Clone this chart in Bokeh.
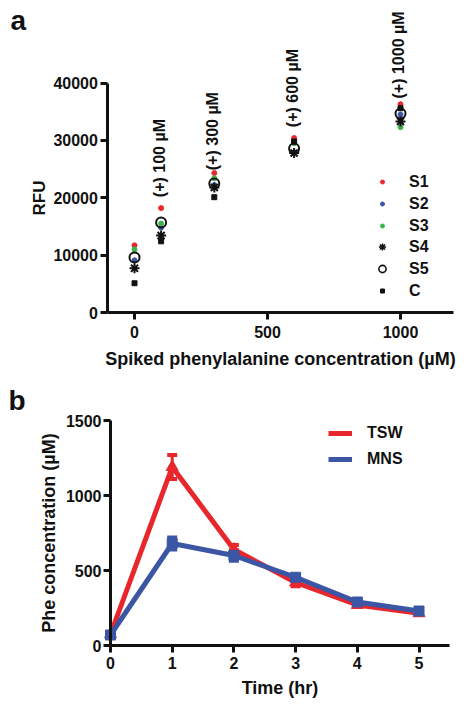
import math
from bokeh.plotting import figure
from bokeh.layouts import column
from bokeh.models import (ColumnDataSource, Legend, LegendItem, Label, FixedTicker,
                          Range1d, Whisker, TeeHead)
from bokeh.core.properties import value
from bokeh.embed import file_html
from bokeh.resources import INLINE

FONT = "Liberation Sans"

# ---------------- Panel a data ----------------
doses = [0, 100, 300, 600, 1000]
s1 = [11700, 18200, 24300, 30400, 36300]
s2 = [9100, 14800, 22200, 27900, 34500]
s3 = [11000, 15500, 23400, 29500, 32300]
s4 = [7700, 13400, 21800, 27800, 33300]
s5 = [9600, 15700, 22500, 28600, 34700]
ctrl = [5100, 12400, 20100, 29800, 35600]
spike_labels = ["(+) 100 µM", "(+) 300 µM", "(+) 600 µM", "(+) 1000 µM"]
spike_x = [100, 300, 600, 1000]
spike_label_y = [20100, 24800, 32300, 37300]
a_xticks = [0, 500, 1000]
a_yticks = [0, 10000, 20000, 30000, 40000]

# ---------------- Panel b data ----------------
time_hr = [0, 1, 2, 3, 4, 5]
tsw = [75, 1190, 640, 420, 270, 215]
tsw_err = [0, 80, 30, 25, 10, 10]
mns = [70, 680, 600, 455, 290, 230]
mns_err = [0, 40, 35, 15, 10, 10]
b_xticks = [0, 1, 2, 3, 4, 5]
b_yticks = [0, 500, 1000, 1500]

RED = "#E8272C"
BLUE = "#3A56A5"
GREEN = "#3AB54A"
BLACK = "#111111"

W = 460
HA = 378
HB = 321
NAN = float("nan")


def style_axes(p):
    for ax in (p.xaxis[0], p.yaxis[0]):
        ax.axis_line_width = 3
        ax.axis_line_color = BLACK
        ax.major_tick_line_width = 3
        ax.major_tick_line_color = BLACK
        ax.major_tick_out = 7
        ax.major_tick_in = 0
        ax.minor_tick_line_color = None
        ax.major_label_text_font = FONT
        ax.major_label_text_font_style = "bold"
        ax.major_label_text_font_size = "16px"
        ax.major_label_text_color = BLACK
        ax.axis_label_text_font = FONT
        ax.axis_label_text_font_style = "bold"
        ax.axis_label_text_font_size = "18px"
        ax.axis_label_text_color = BLACK
    p.xgrid.grid_line_color = None
    p.ygrid.grid_line_color = None
    p.outline_line_color = None


def make_fig(h, x0_px, xs, y0_px, ys):
    # x0_px: pixel column of data x=0; xs: px per unit; y0_px: pixel row of y=0; ys: px per unit
    xr = Range1d(-x0_px / xs, (W - x0_px) / xs)
    yr = Range1d(-(h - y0_px) / ys, y0_px / ys)
    p = figure(width=W, height=h, output_backend="svg", toolbar_location=None,
               x_range=xr, y_range=yr, min_border_left=0, min_border_right=0,
               min_border_top=0, min_border_bottom=0)
    return p


def legend(items, loc, gw, gh, standoff, spacing):
    return Legend(items=items, location=loc, padding=0, margin=0,
                  glyph_width=gw, glyph_height=gh, label_height=gh, spacing=spacing,
                  label_standoff=standoff, border_line_alpha=0, background_fill_alpha=0,
                  label_text_font=FONT, label_text_font_style="bold",
                  label_text_font_size="16px", label_text_color=BLACK)


# ================= Panel a =================
pa = make_fig(HA, 134, 133 / 500, 312, 229.5 / 40000)
style_axes(pa)
pa.xaxis[0].fixed_location = 0
pa.yaxis[0].fixed_location = -100
pa.xaxis[0].ticker = FixedTicker(ticks=a_xticks)
pa.yaxis[0].ticker = FixedTicker(ticks=a_yticks)
pa.yaxis[0].bounds = (0, 40000)
pa.xaxis[0].bounds = (-100, 1200)
pa.xaxis[0].axis_label = "Spiked phenylalanine concentration (µM)"
pa.yaxis[0].axis_label = "RFU"
pa.yaxis[0].axis_label_text_font_size = "17px"
pa.xaxis[0].major_label_standoff = 6
pa.xaxis[0].axis_label_standoff = 8
pa.yaxis[0].major_label_standoff = 3
pa.yaxis[0].axis_label_standoff = 1

pa.scatter(doses, s1, marker="circle", size=5, color=RED)
pa.scatter(doses, s2, marker="circle", size=5, color=BLUE)
pa.scatter(doses, s3, marker="circle", size=5, color=GREEN)
pa.scatter(doses, s4, marker="asterisk", size=10, line_color=BLACK, line_width=2)
pa.scatter(doses, s5, marker="circle", size=10, fill_color=None,
           line_color=BLACK, line_width=2)
pa.scatter(doses, ctrl, marker="square", size=5, color=BLACK)

pa.text(x=spike_x, y=spike_label_y, text=spike_labels, angle=math.pi / 2,
        text_align="left", text_baseline="middle", text_font=value(FONT),
        text_font_style="bold", text_font_size="16px", text_color=BLACK,
        x_offset=-2)

# legend-only renderers (one hidden point each; sizes set by legend glyph box)
l1 = pa.scatter([NAN], [NAN], marker="circle", color=RED)
l2 = pa.scatter([NAN], [NAN], marker="circle", color=BLUE)
l3 = pa.scatter([NAN], [NAN], marker="circle", color=GREEN)
l4 = pa.scatter([NAN], [NAN], marker="asterisk", line_color=BLACK, line_width=1.6)
l5 = pa.scatter([NAN], [NAN], marker="circle", fill_color=None, line_color=BLACK,
                line_width=1.6)
l6 = pa.scatter([NAN], [NAN], marker="square", color=BLACK)

leg_a1 = legend([LegendItem(label="S1", renderers=[l1]),
                 LegendItem(label="S2", renderers=[l2]),
                 LegendItem(label="S3", renderers=[l3])],
                (377, HA - 235), 10, 19, 22, 3)
leg_a2 = legend([LegendItem(label="S4", renderers=[l4]),
                 LegendItem(label="S5", renderers=[l5])],
                (373, HA - 278), 18, 19, 18, 3)
leg_a3 = legend([LegendItem(label="C", renderers=[l6])],
                (377, HA - 300), 10, 19, 22, 3)
pa.add_layout(leg_a1)
pa.add_layout(leg_a2)
pa.add_layout(leg_a3)

pa.add_layout(Label(x=10, y=HA - 20, x_units="screen", y_units="screen", text="a",
                    text_font=FONT, text_font_style="bold", text_font_size="28px",
                    text_baseline="middle", text_color=BLACK))

# ================= Panel b =================
pb = make_fig(HB, 110, 61.7, 645 - HA, 0.15)
style_axes(pb)
pb.xaxis[0].fixed_location = 0
pb.yaxis[0].fixed_location = 0
pb.xaxis[0].bounds = (0, 5.5)
pb.yaxis[0].bounds = (0, 1500)
pb.xaxis[0].ticker = FixedTicker(ticks=b_xticks)
pb.yaxis[0].ticker = FixedTicker(ticks=b_yticks)
pb.xaxis[0].axis_label = "Time (hr)"
pb.yaxis[0].axis_label = "Phe concentration (µM)"
pb.xaxis[0].major_label_standoff = 4
pb.xaxis[0].axis_label_standoff = 6
pb.yaxis[0].major_label_standoff = 2
pb.yaxis[0].axis_label_standoff = 4

src_t = ColumnDataSource(dict(x=time_hr, y=tsw,
                              lo=[v - e for v, e in zip(tsw, tsw_err)],
                              hi=[v + e for v, e in zip(tsw, tsw_err)]))
src_m = ColumnDataSource(dict(x=time_hr, y=mns,
                              lo=[v - e for v, e in zip(mns, mns_err)],
                              hi=[v + e for v, e in zip(mns, mns_err)]))

wt = Whisker(source=src_t, base="x", lower="lo", upper="hi", line_color=RED, line_width=3,
             upper_head=TeeHead(size=10, line_color=RED, line_width=4),
             lower_head=TeeHead(size=10, line_color=RED, line_width=4))
wm = Whisker(source=src_m, base="x", lower="lo", upper="hi", line_color=BLUE, line_width=3,
             upper_head=TeeHead(size=10, line_color=BLUE, line_width=4),
             lower_head=TeeHead(size=10, line_color=BLUE, line_width=4))
pb.add_layout(wt)
pb.add_layout(wm)

lt = pb.line("x", "y", source=src_t, line_color=RED, line_width=5)
pb.scatter("x", "y", source=src_t, marker="triangle", size=12, color=RED)
lm = pb.line("x", "y", source=src_m, line_color=BLUE, line_width=5)
pb.scatter("x", "y", source=src_m, marker="square", size=10, color=BLUE)

leg_b = legend([LegendItem(label="TSW", renderers=[lt]),
                LegendItem(label="MNS", renderers=[lm])],
               (328, HB - (459 + 10 - HA)), 24, 20, 15, 6)
pb.add_layout(leg_b)

pb.add_layout(Label(x=8, y=HB - 22, x_units="screen", y_units="screen", text="b",
                    text_font=FONT, text_font_style="bold", text_font_size="28px",
                    text_baseline="middle", text_color=BLACK))

layout = column(pa, pb, spacing=0)
open("out.html", "w").write(file_html(layout, INLINE))
